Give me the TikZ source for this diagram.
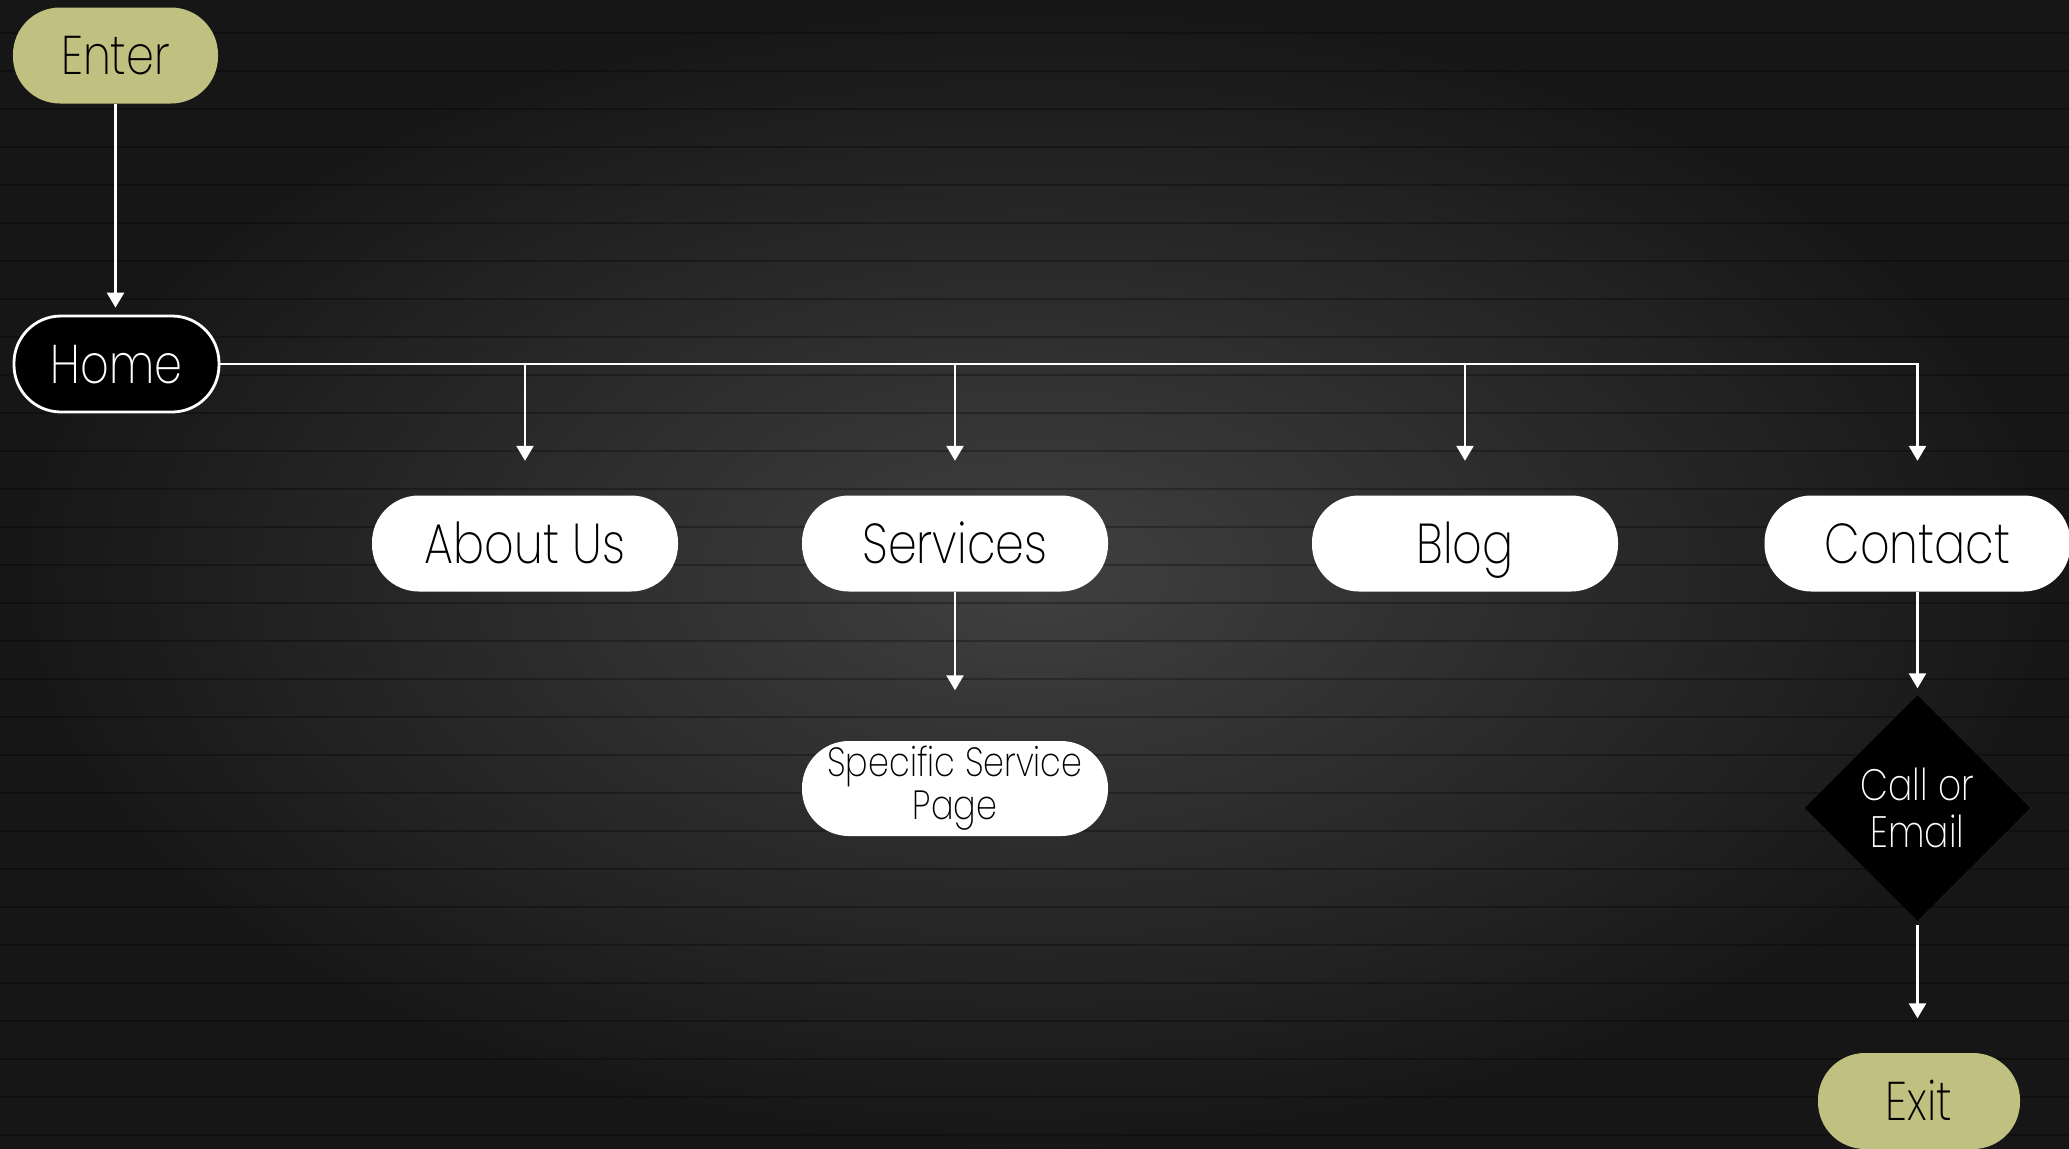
\documentclass[tikz,border=0pt]{standalone}
\usepackage{fontspec}
\setmainfont{Poppins ExtraLight}[FakeStretch=0.82]
\usetikzlibrary{shapes.geometric,arrows.meta}
\definecolor{pageolive}{RGB}{192,192,128}
\definecolor{bgin}{RGB}{64,64,64}
\definecolor{bgout}{RGB}{22,22,22}
\begin{document}
\begin{tikzpicture}[x=1cm,y=1cm,
  pill/.style={rectangle, rounded corners=0.47cm, minimum height=0.96cm, inner sep=0pt, align=center},
  pagebox/.style={pill, fill=white, text=black, minimum width=3.06cm, font=\fontsize{16}{18}\selectfont, text height=11.2pt, text depth=0pt},
  endbox/.style={pill, fill=pageolive, text=black, minimum width=2.05cm, font=\fontsize{15.5}{18}\selectfont, text height=10.85pt, text depth=0pt},
  homebox/.style={pill, fill=black, draw=white, line width=0.8pt, text=white, minimum width=2.05cm, font=\fontsize{15.5}{18}\selectfont, text height=10.85pt, text depth=0pt},
  twoline/.style={pill, fill=white, text=black, minimum width=3.06cm, minimum height=0.95cm, font=\fontsize{11.6}{12.3}\selectfont},
  choice/.style={diamond, fill=black, text=white, minimum width=2.26cm, minimum height=2.26cm, inner sep=0pt, align=center, font=\fontsize{12.5}{13.2}\selectfont},
  arr/.style={draw=white, line width=0.7pt, -{Triangle[width=0.17cm,length=0.15cm]}},
  plank/.style={black, opacity=0.28, line width=0.6pt}
]
\useasboundingbox (0,0) rectangle (20.69,-11.48);
\fill[bgout] (-0.1,0.1) rectangle (20.8,-11.6);
\shade[inner color=bgin, outer color=bgout] (-0.05,0.05) rectangle (20.74,-11.53);
\foreach \i in {1,...,30} {\draw[plank] (-0.1,-\i*0.38+0.05) -- (20.8,-\i*0.38+0.05);}

\node[endbox] (enter) at (1.155,-0.555) {Enter};
\node[homebox] (home) at (1.165,-3.64) {Home};
\node[pagebox] (about) at (5.25,-5.435) {About Us};
\node[pagebox] (services) at (9.55,-5.435) {Services};
\node[pagebox] (blog) at (14.65,-5.435) {Blog};
\node[pagebox] (contact) at (19.175,-5.435) {Contact};
\node[twoline] (specific) at (9.55,-7.885) {Specific Service\\Page};
\node[choice] (decide) at (19.175,-8.08) {Call or\\Email};
\node[endbox, minimum width=2.02cm] (exit) at (19.19,-11.01) {Exit};

\draw[arr, shorten >=0.07cm] (enter.south) -- (enter.south |- home.north);
\draw[arr, shorten >=0.34cm] (home.east) -| (contact.north);
\draw[arr, shorten >=0.34cm] (home.east -| about.north) -- (about.north);
\draw[arr, shorten >=0.34cm] (home.east -| services.north) -- (services.north);
\draw[arr, shorten >=0.34cm] (home.east -| blog.north) -- (blog.north);
\draw[arr, shorten >=0.5cm] (services.south) -- (specific.north);
\draw[arr, shorten >=0.06cm] (contact.south) -- (contact.south |- decide.north);
\draw[arr, shorten <=0.03cm, shorten >=0.34cm] (decide.south) -- (decide.south |- exit.north);
\end{tikzpicture}
\end{document}
